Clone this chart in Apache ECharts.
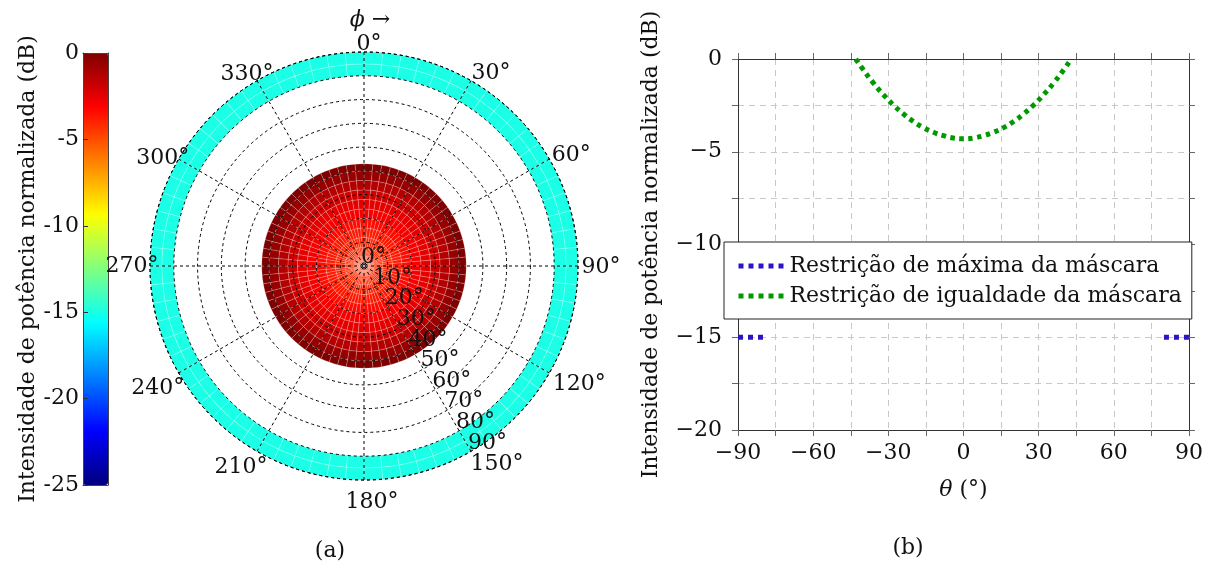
<!DOCTYPE html>
<html><head><meta charset="utf-8">
<script src="https://cdn.jsdelivr.net/npm/echarts@6/dist/echarts.min.js"></script>
<style>html,body{margin:0;padding:0;background:#fff}#c{width:1210px;height:574px}</style>
</head><body><div id="c"></div>
<script>
// ---- data ----
// equality mask (green), theta >= 0 half (curve is symmetric)
const thetaEqPos = [0, 4, 8, 12, 16, 20, 24, 28, 32, 36, 40, 43];
const eqDBPos    = [-4.30, -4.26, -4.13, -3.95, -3.70, -3.37, -2.96, -2.48, -1.92, -1.29, -0.58, 0];
// maximum mask (blue), theta >= 0 half
const thetaMaxPos = [80, 85, 90];
const maxDBPos    = [-15, -15, -15];
// tick labels of the polar plot
const phiTicks = [0, 30, 60, 90, 120, 150, 180, 210, 240, 270, 300, 330];
const thetaTicks = [0, 10, 20, 30, 40, 50, 60, 70, 80, 90];
// colour scale
const cbMin = -25, cbMax = 0;
const jetColors = ['#00007F', '#0000FF', '#0080FF', '#00FFFF', '#80FF80', '#FFFF00', '#FF8000', '#FF0000', '#7F0000'];
const seriesNames = ['Restrição de máxima da máscara', 'Restrição de igualdade da máscara'];
const yTitle = 'Intensidade de potência normalizada (dB)';

// ---- styling ----
const phiStep = 5;          // angular mesh resolution of the surface plot
const thetaLabelRay = 150;  // azimuth along which the theta labels are written
const phiLabelOffset = [[5, -8], [20, -7], [22, -4], [23, 1], [30, 11], [26, 13], [8, 22], [-16, 16], [-21, 15], [-18, 0], [-16, -1], [-10, -6]];
const FONT = 'DejaVu Serif';
const FS = 22;

// ---- build series data ----
function mirror(th, v) {
  const out = [];
  for (let i = th.length - 1; i >= 1; i--) out.push([-th[i], v[i]]);
  for (let i = 0; i < th.length; i++) out.push([th[i], v[i]]);
  return out;
}
const eqLine = mirror(thetaEqPos, eqDBPos);
const maxLine = [];
for (let i = thetaMaxPos.length - 1; i >= 0; i--) maxLine.push([-thetaMaxPos[i], maxDBPos[i]]);
maxLine.push('-');
for (let i = 0; i < thetaMaxPos.length; i++) maxLine.push([thetaMaxPos[i], maxDBPos[i]]);

function ringCells(th, v) {
  const out = [];
  for (let i = 0; i < th.length - 1; i++)
    for (let p = 0; p < 360; p += phiStep) out.push([th[i], th[i + 1], p, p + phiStep, v[i + 1]]);
  return out;
}
const cells = ringCells(thetaEqPos, eqDBPos).concat(ringCells(thetaMaxPos, maxDBPos));
const thetaMax = thetaTicks[thetaTicks.length - 1];

function renderCell(params, api) {
  const r0 = api.value(0), r1 = api.value(1), a0 = api.value(2), a1 = api.value(3);
  const c = api.coord([0, 0]);
  const pA = api.coord([r1, a0]), pB = api.coord([r1, a1]), pI = api.coord([r0, a0]);
  const R = Math.hypot(pA[0] - c[0], pA[1] - c[1]);
  const R0 = Math.hypot(pI[0] - c[0], pI[1] - c[1]);
  const s = Math.atan2(pA[1] - c[1], pA[0] - c[0]);
  let e = Math.atan2(pB[1] - c[1], pB[0] - c[0]);
  if (e <= s) e += 2 * Math.PI;
  return {
    type: 'sector',
    shape: { cx: c[0], cy: c[1], r0: R0, r: R, startAngle: s, endAngle: e, clockwise: true },
    style: { fill: api.visual('color'), stroke: 'rgba(255,255,255,0.33)', lineWidth: 0.6 }
  };
}

const txt = { fontFamily: FONT, fontSize: FS, color: '#111' };
const minus = v => (v < 0 ? '\u2212' + Math.abs(v) : String(v));
const dash = { type: [3, 3], color: '#000', width: 1 };

const option = {
  animation: false,
  backgroundColor: '#fff',
  polar: { center: [364, 266], radius: 214 },
  angleAxis: {
    type: 'value', min: 0, max: 360, interval: 30, startAngle: 90, clockwise: true, z: 10,
    axisLine: { show: true, lineStyle: dash }, axisTick: { show: false }, axisLabel: { show: false },
    splitLine: { show: true, lineStyle: dash }
  },
  radiusAxis: {
    type: 'value', min: 0, max: thetaMax, interval: 10, z: 10,
    axisLine: { show: false }, axisTick: { show: false }, axisLabel: { show: false },
    splitLine: { show: true, lineStyle: dash }
  },
  grid: [
    { left: 738, right: 21, top: 59, bottom: 144 },
    { left: 83, top: 53, width: 25, height: 432 }
  ],
  xAxis: [
    { gridIndex: 0, type: 'value', min: -90, max: 90, interval: 15, position: 'bottom',
      axisLine: { onZero: false, lineStyle: { color: '#333' } },
      axisTick: { length: 6, lineStyle: { color: '#666' } },
      axisLabel: Object.assign({ margin: 12, formatter: v => (v % 30 === 0 ? minus(v) : '') }, txt),
      splitLine: { show: true, lineStyle: { type: [6, 5], color: '#c8c8c8' } },
      name: '{i|θ} (°)', nameLocation: 'middle', nameGap: 49,
      nameTextStyle: Object.assign({ rich: { i: { fontStyle: 'italic', fontFamily: FONT, fontSize: FS } } }, txt) },
    { gridIndex: 0, type: 'value', min: -90, max: 90, interval: 15, position: 'top',
      axisLine: { onZero: false, lineStyle: { color: '#333' } },
      axisTick: { length: 6, lineStyle: { color: '#666' } }, axisLabel: { show: false }, splitLine: { show: false } },
    { gridIndex: 1, type: 'value', min: 0, max: 1, position: 'bottom', z: 10,
      axisLine: { onZero: false, lineStyle: { color: '#444' } }, axisTick: { show: false }, axisLabel: { show: false }, splitLine: { show: false } },
    { gridIndex: 1, type: 'value', min: 0, max: 1, position: 'top', z: 10,
      axisLine: { onZero: false, lineStyle: { color: '#444' } }, axisTick: { show: false }, axisLabel: { show: false }, splitLine: { show: false } }
  ],
  yAxis: [
    { gridIndex: 0, type: 'value', min: -20, max: 0, interval: 2.5, position: 'left',
      axisLine: { show: true, onZero: false, lineStyle: { color: '#333' } },
      axisTick: { show: true, length: 6, lineStyle: { color: '#666' } },
      axisLabel: Object.assign({ margin: 16, formatter: v => (v % 5 === 0 ? minus(v) : '') }, txt),
      splitLine: { show: true, lineStyle: { type: [6, 5], color: '#c8c8c8' } },
      name: yTitle, nameLocation: 'middle', nameGap: 76, nameTextStyle: txt },
    { gridIndex: 0, type: 'value', min: -20, max: 0, interval: 2.5, position: 'right',
      axisLine: { show: true, onZero: false, lineStyle: { color: '#333' } },
      axisTick: { show: true, length: 6, lineStyle: { color: '#666' } }, axisLabel: { show: false }, splitLine: { show: false } },
    { gridIndex: 1, type: 'value', min: cbMin, max: cbMax, interval: 5, position: 'left', z: 10,
      axisLine: { show: true, onZero: false, lineStyle: { color: '#444' } },
      axisTick: { show: true, inside: true, length: 5, lineStyle: { color: '#333' } },
      axisLabel: Object.assign({ margin: 4 }, txt), splitLine: { show: false },
      name: yTitle, nameLocation: 'middle', nameGap: 42, nameTextStyle: txt },
    { gridIndex: 1, type: 'value', min: cbMin, max: cbMax, position: 'right', z: 10,
      axisLine: { show: true, onZero: false, lineStyle: { color: '#444' } },
      axisTick: { show: false }, axisLabel: { show: false }, splitLine: { show: false } }
  ],
  visualMap: {
    type: 'continuous', min: cbMin, max: cbMax, dimension: 4, seriesIndex: 0,
    left: 83, top: 53, itemWidth: 25, itemHeight: 432, padding: 0,
    calculable: false, text: null, showLabel: false, hoverLink: false,
    inRange: { color: jetColors }
  },
  legend: {
    orient: 'vertical', left: 724, top: 242, z: 20,
    backgroundColor: '#fff', borderColor: '#222', borderWidth: 1, borderRadius: 0,
    padding: [13, 10, 12, 12], itemGap: 8, itemWidth: 46, itemHeight: 14,
    lineStyle: { width: 5, type: [5, 5], cap: 'butt' },
    itemStyle: { opacity: 0 },
    textStyle: txt, data: seriesNames
  },
  graphic: [
    { type: 'text', x: 370, y: 20, style: { text: '{i|ϕ} →', fill: '#111', font: FS + 'px "' + FONT + '"', textAlign: 'center', textVerticalAlign: 'middle',
        rich: { i: { fontStyle: 'italic', fontFamily: FONT, fontSize: FS } } } },
    { type: 'text', x: 330, y: 551, style: { text: '(a)', fill: '#111', font: FS + 'px "' + FONT + '"', textAlign: 'center', textVerticalAlign: 'middle' } },
    { type: 'text', x: 908, y: 548, style: { text: '(b)', fill: '#111', font: FS + 'px "' + FONT + '"', textAlign: 'center', textVerticalAlign: 'middle' } }
  ],
  series: [
    { type: 'custom', coordinateSystem: 'polar', renderItem: renderCell,
      dimensions: ['r0', 'r1', 'a0', 'a1', 'v'], encode: { radius: 0, angle: 2 }, data: cells, z: 2, silent: true },
    { name: seriesNames[0], type: 'line', xAxisIndex: 0, yAxisIndex: 0, data: maxLine, symbol: 'none', clip: false,
      lineStyle: { color: '#2B14C8', width: 5, type: [5, 5], cap: 'butt' }, itemStyle: { color: '#2B14C8' }, z: 5 },
    { name: seriesNames[1], type: 'line', xAxisIndex: 0, yAxisIndex: 0, data: eqLine, symbol: 'none', smooth: true, clip: false,
      lineStyle: { color: '#009900', width: 5, type: [4.5, 4.5], cap: 'butt' }, itemStyle: { color: '#009900' }, z: 5 },
    { type: 'scatter', coordinateSystem: 'polar', symbolSize: 0, silent: true, z: 12, itemStyle: { opacity: 1 },
      data: phiTicks.map((a, i) => ({ value: [thetaMax, a], label: { offset: phiLabelOffset[i] } })),
      label: Object.assign({ show: true, position: 'inside', opacity: 1, textBorderWidth: 0, formatter: p => p.value[1] + '°' }, txt) },
    { type: 'scatter', coordinateSystem: 'polar', symbolSize: 0, silent: true, z: 12, itemStyle: { opacity: 1 },
      data: thetaTicks.map(t => [t, thetaLabelRay]),
      label: Object.assign({ show: true, position: 'inside', align: 'left', offset: [-3, -8.5], opacity: 1, textBorderWidth: 0,
        formatter: p => p.value[0] + '°' }, txt) }
  ]
};
const chart = echarts.init(document.getElementById('c'), null, { renderer: 'canvas' });
chart.setOption(option);
</script></body></html>
